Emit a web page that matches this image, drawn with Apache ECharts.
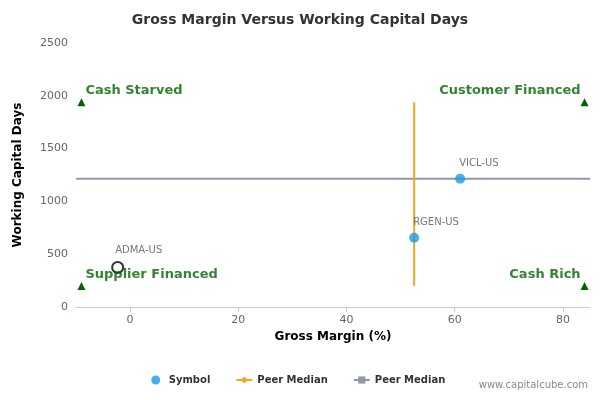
<!DOCTYPE html><html><head><meta charset="utf-8"><script src="https://cdn.jsdelivr.net/npm/echarts@6/dist/echarts.min.js"></script></head><body style="margin:0"><div id="c" style="width:600px;height:400px"></div><script>
const symbols=[{name:'VICL-US',x:61,y:1215},{name:'RGEN-US',x:52.5,y:655}];
const own=[{name:'ADMA-US',x:-2.3,y:375}];
const medianX=[[52.5,200],[52.5,1940]];
const medianY=[[-10,1215],[85,1215]];
const corners=[[-9,1940],[84,1940],[-9,200],[84,200]];
const quadLabels=[{t:'Cash Starved',x:-9,y:1940,a:'left'},{t:'Customer Financed',x:84,y:1940,a:'right'},{t:'Supplier Financed',x:-9,y:200,a:'left'},{t:'Cash Rich',x:84,y:200,a:'right'}];
const chart=echarts.init(document.getElementById('c'));
const F='DejaVu Sans';
chart.setOption({
 textStyle:{fontFamily:F},
 title:{text:'Gross Margin Versus Working Capital Days',left:'center',top:8,textStyle:{fontSize:14,fontWeight:'bold',color:'#333',fontFamily:F}},
 grid:{left:76,right:10,top:43,bottom:93},
 xAxis:{type:'value',min:-10,max:85,interval:20,name:'Gross Margin (%)',nameLocation:'middle',nameGap:24,
  nameTextStyle:{fontWeight:'bold',fontSize:12,color:'#000'},
  axisLabel:{color:'#666',fontSize:11,customValues:[0,20,40,60,80]},axisTick:{customValues:[0,20,40,60,80],lineStyle:{color:'#c0d0e0'}},splitLine:{show:false},
  axisLine:{onZero:false,lineStyle:{color:'#c0d0e0'}}},
 yAxis:{type:'value',min:0,max:2500,interval:500,name:'Working Capital Days',nameLocation:'middle',nameGap:52,
  nameTextStyle:{fontWeight:'bold',fontSize:12,color:'#000'},axisLabel:{color:'#666',fontSize:11,formatter:v=>String(v)},splitLine:{show:false},axisLine:{show:false,onZero:false},axisTick:{show:false}},
 legend:{bottom:10,left:'center',itemGap:25,itemWidth:16,itemHeight:9,textStyle:{fontSize:10,fontWeight:'bold',color:'#333'},
  data:[{name:'Symbol',icon:'circle'},{name:'Peer Median'},{name:'Peer Median '}]},
 graphic:[{type:'text',right:12,bottom:10,style:{text:'www.capitalcube.com',fill:'#888',fontSize:10,fontFamily:F}}],
 series:[
  {name:'Peer Median ',type:'line',data:medianY,symbol:'rect',showSymbol:false,lineStyle:{color:'#9098a8',width:2},itemStyle:{color:'#9098a8'},z:1},
  {name:'Peer Median',type:'line',data:medianX,symbol:'diamond',showSymbol:false,lineStyle:{color:'#f5a623',width:2},itemStyle:{color:'#f5a623'},z:2},
  {name:'Symbol',type:'scatter',symbolSize:10,itemStyle:{color:'#1a9be6'},data:symbols.map(d=>({value:[d.x,d.y],name:d.name})),
   label:{show:true,position:[4,-15],formatter:p=>p.name,color:'#555',fontSize:10},z:3},
  {name:'own',type:'scatter',symbolSize:11,itemStyle:{color:'#fff',borderColor:'#000',borderWidth:2},data:own.map(d=>({value:[d.x,d.y],name:d.name})),
   label:{show:true,position:[4,-15],formatter:p=>p.name,color:'#555',fontSize:10},z:4},
  {name:'corners',type:'scatter',symbol:'triangle',symbolSize:8,itemStyle:{color:'#006400',opacity:1},data:corners,z:3},
  {name:'quad',type:'scatter',symbolSize:0,data:quadLabels.map(q=>({value:[q.x,q.y],label:{show:true,formatter:q.t,position:q.a==='left'?[4,-18]:[-4,-18],align:q.a,color:'#006400',fontWeight:'bold',fontSize:13}})),z:5}
 ]});
</script></body></html>
